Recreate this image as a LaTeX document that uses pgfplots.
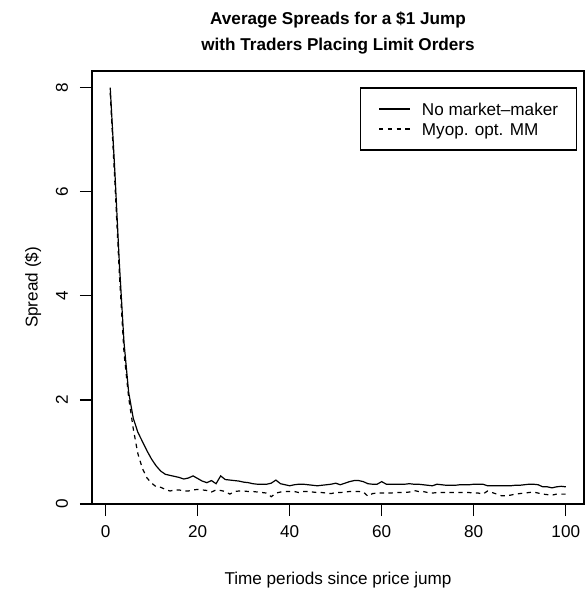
\documentclass[border=0pt]{standalone}
\usepackage{fontspec}
\setmainfont{Liberation Sans}
\usepackage{pgfplots}
\pgfplotsset{compat=1.18}

% average spread by period, no market-maker (solid) and myopically optimal MM (dashed)
\pgfplotstableread{
t  nomm  mm
1  8.00  7.90
2  6.40  6.20
3  4.60  4.40
4  3.10  2.90
5  2.15  2.05
6  1.65  1.45
7  1.38  0.97
8  1.20  0.68
9  1.02  0.50
10 0.86  0.40
11 0.73  0.33
12 0.63  0.32
13 0.57  0.28
14 0.55  0.25
15 0.53  0.27
16 0.51  0.27
17 0.48  0.25
18 0.50  0.25
19 0.54  0.27
20 0.49  0.28
21 0.44  0.27
22 0.41  0.26
23 0.45  0.23
24 0.39  0.27
25 0.54  0.26
26 0.47  0.24
27 0.46  0.19
28 0.45  0.24
29 0.44  0.25
30 0.42  0.25
31 0.41  0.24
32 0.39  0.24
33 0.38  0.23
34 0.38  0.22
35 0.38  0.21
36 0.40  0.14
37 0.46  0.21
38 0.39  0.23
39 0.37  0.24
40 0.35  0.24
41 0.37  0.24
42 0.38  0.22
43 0.38  0.24
44 0.37  0.24
45 0.36  0.23
46 0.35  0.22
47 0.36  0.22
48 0.37  0.21
49 0.38  0.20
50 0.40  0.22
51 0.37  0.22
52 0.40  0.23
53 0.43  0.24
54 0.45  0.24
55 0.45  0.24
56 0.43  0.23
57 0.39  0.15
58 0.38  0.20
59 0.38  0.21
60 0.43  0.21
61 0.38  0.21
62 0.38  0.21
63 0.38  0.22
64 0.38  0.22
65 0.38  0.22
66 0.39  0.23
67 0.38  0.26
68 0.38  0.24
69 0.37  0.24
70 0.36  0.22
71 0.35  0.21
72 0.38  0.22
73 0.37  0.22
74 0.36  0.22
75 0.36  0.22
76 0.36  0.22
77 0.37  0.22
78 0.37  0.22
79 0.37  0.22
80 0.38  0.21
81 0.38  0.21
82 0.38  0.19
83 0.35  0.25
84 0.35  0.22
85 0.35  0.19
86 0.35  0.16
87 0.35  0.16
88 0.35  0.17
89 0.36  0.19
90 0.36  0.20
91 0.37  0.21
92 0.38  0.22
93 0.38  0.23
94 0.37  0.21
95 0.33  0.19
96 0.33  0.18
97 0.31  0.17
98 0.33  0.19
99 0.34  0.19
100 0.33 0.19
}\spreads

\begin{document}
\fontsize{8.6}{10.3}\selectfont
\begin{tikzpicture}
\useasboundingbox (-46bp,-43bp) rectangle (247.5bp,252bp);
\begin{axis}[
  scale only axis, width=246bp, height=216.5bp,
  xmin=-2.96, xmax=103.96, ymin=0, ymax=8.32,
  xtick={0,20,...,100}, ytick={0,2,...,8},
  tick align=outside, tick pos=left, major tick length=6bp,
  every tick/.style={black, line width=0.6bp},
  axis line style={line width=0.6bp},
  /pgf/number format/assume math mode=true,
  ticklabel style={font=\fontsize{8.6}{10.3}\selectfont},
  xticklabel style={anchor=center, yshift=-8bp},
  yticklabel style={xshift=-9bp, rotate=90, anchor=center},
  title={Average Spreads for a \$1 Jump\\with Traders Placing Limit Orders},
  title style={font=\bfseries\fontsize{8.6}{13}\selectfont, align=center,
    at={(rel axis cs:0.5,1)}, anchor=south, yshift=2.4bp, inner sep=0pt},
  xlabel={Time periods since price jump},
  every axis x label/.style={at={(rel axis cs:0.5,0)}, yshift=-38bp, anchor=center},
  ylabel={Spread (\$)},
  every axis y label/.style={at={(rel axis cs:0,0.5)}, xshift=-29.5bp, rotate=90, anchor=center},
  legend cell align=left,
  legend image code/.code={\draw[#1] (0bp,0bp) -- (15.5bp,0bp);},
  legend style={at={(rel axis cs:1,1)}, anchor=north east, xshift=-3.65bp, yshift=-8.15bp,
    draw=black, line width=0.6bp, inner xsep=9bp, inner ysep=5.5bp, row sep=0pt,
    font=\fontsize{8.6}{10.3}\selectfont,
    nodes={inner sep=0pt, text height=8.1bp, text depth=1.9bp},
    /tikz/every odd column/.append style={column sep=5.65bp}},
]
\addplot[black, line width=0.6bp] table[x=t, y=nomm] {\spreads};
\addlegendentry{No market–maker}
\addplot[black, line width=0.6bp, dash pattern=on 2.2bp off 2.2bp] table[x=t, y=mm] {\spreads};
\addlegendentry{Myop. opt. MM}
\end{axis}
\end{tikzpicture}
\end{document}
